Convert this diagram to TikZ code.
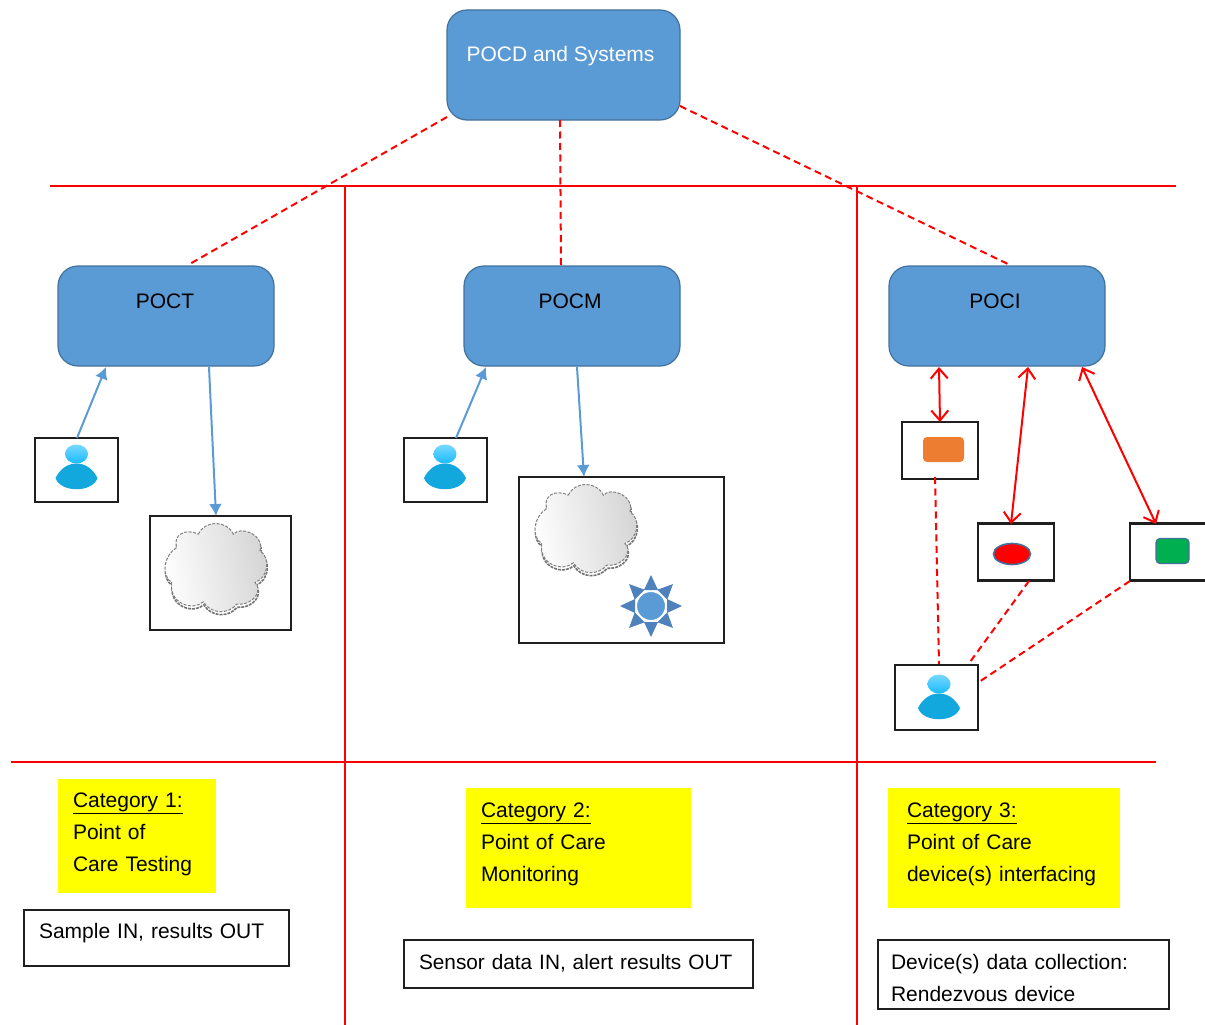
\documentclass[tikz,border=0pt]{standalone}
\usepackage{fontspec}
\setmainfont{Liberation Sans}
\usetikzlibrary{arrows.meta,shapes.geometric}
\definecolor{boxblue}{HTML}{5B9BD5}
\definecolor{boxedge}{HTML}{41719C}
\definecolor{sunblue}{HTML}{4F81BD}
\definecolor{pureyellow}{HTML}{FFFF00}
\definecolor{purered}{HTML}{FF0000}
\newsavebox{\liftbox}
\newcommand{\uptext}[2]{\sbox{\liftbox}{\begin{tabular}{@{}l@{}}#2\end{tabular}}\raisebox{#1}[\ht\liftbox][\dp\liftbox]{\usebox{\liftbox}}}
\newcommand{\cloudpath}{(-18.3,-33.3) .. controls (-12,-47.6) and (10,-47.6) .. (16.7,-33.3)
  .. controls (24,-42) and (48,-33) .. (43.3,-16.7)
  .. controls (54,-10) and (52,10) .. (38.3,15)
  .. controls (46,22) and (38,38) .. (20,36.7)
  .. controls (12,47) and (-6,47) .. (-13.3,34.3)
  .. controls (-24,44) and (-48,36) .. (-45,15)
  .. controls (-56,8) and (-53,-12) .. (-40,-20)
  .. controls (-44,-32) and (-32,-40) .. (-18.3,-33.3) -- cycle}
\tikzset{
  txt/.style={font=\fontsize{21}{32}\selectfont},
  bluebox/.style={draw=boxedge,line width=1.2pt,fill=boxblue,rounded corners=20pt,outer sep=0pt,inner sep=0pt},
  blackbox/.style={draw=black!88,line width=2.2pt,fill=white,outer sep=0pt,inner sep=0pt},
  yellowbox/.style={fill=pureyellow,outer sep=0pt,inner sep=0pt,txt,align=left},
  redline/.style={purered,line width=2pt},
  reddash/.style={purered,line width=2pt,dash pattern=on 7pt off 4.5pt},
  bluearrow/.style={draw=boxblue,line width=2pt,-{Latex[length=12pt,width=13pt]}},
  redarrow/.style={purered,line width=2pt,{Straight Barb[length=10pt,width=17pt]}-{Straight Barb[length=10pt,width=17pt]}},
  pics/person/.style={code={
    \shade[top color=cyan!45!white!85!blue,bottom color=cyan!70!blue!90] (0,-16) ellipse [x radius=11.5pt,y radius=9.5pt];
    \fill[color={rgb,255:red,18;green,168;blue,222}] (-21,8) .. controls (-16,-2) and (-8,-6.5) .. (0,-6.5) .. controls (8,-6.5) and (16,-2) .. (21,8) .. controls (16,23) and (-16,23) .. (-21,8) -- cycle;
  }},
  pics/puffcloud/.style={code={
    \draw[black!55,line width=1.6pt,dash pattern=on 3pt off 1pt,shift={(0.5,3)}] \cloudpath;
    \shade[left color=white,right color=black!17,shading angle=100] \cloudpath;
    \draw[black!50,line width=1pt,dash pattern=on 3pt off 1.5pt] \cloudpath;
  }},
  pics/sunburst/.style={code={
    \foreach \a in {0,45,...,315}{
      \fill[sunblue,rotate=\a] (16,-7) -- (31,0) -- (16,7) -- cycle;
    }
    \draw[white,line width=1pt,fill=boxblue] (0,0) circle [radius=14.5pt];
  }},
}
\begin{document}
\begin{tikzpicture}[x=1pt,y=-1pt]
\useasboundingbox (0,0) rectangle (1205,1025);

% separators
\coordinate (h1a) at (50,186); \coordinate (h1b) at (1176,186);
\coordinate (h2a) at (11,762); \coordinate (h2b) at (1156,762);
\coordinate (v1a) at (345,186); \coordinate (v1b) at (345,1025);
\coordinate (v2a) at (857,186); \coordinate (v2b) at (857,1025);
\draw[redline] (h1a) -- (h1b);
\draw[redline] (h2a) -- (h2b);
\draw[redline] (v1a) -- (v1b);
\draw[redline] (v2a) -- (v2b);

% blue boxes
\node[bluebox,minimum width=233pt,minimum height=110pt] (top) at (563.5,65) {};
\node[txt,white,anchor=base] (toplabel) at (560.5,62) {POCD and Systems};
\node[bluebox,minimum width=216pt,minimum height=100pt] (poct) at (166,316) {};
\node[bluebox,minimum width=216pt,minimum height=100pt] (pocm) at (572,316) {};
\node[bluebox,minimum width=216pt,minimum height=100pt] (poci) at (997,316) {};
\node[txt,anchor=base] (poctlabel) at (165,308) {POCT};
\node[txt,anchor=base] (pocmlabel) at (570,308) {POCM};
\node[txt,anchor=base] (pocilabel) at (995,308) {POCI};

% dashed links from the top box
\coordinate (t1) at (447,117); \coordinate (t2) at (560,120); \coordinate (t3) at (680,106);
\coordinate (c1) at (188,265); \coordinate (c2) at (561,265); \coordinate (c3) at (1010,265);
\draw[reddash] (t1) -- (c1);
\draw[reddash] (t2) -- (c2);
\draw[reddash] (t3) -- (c3);

% POCT column
\node[blackbox,minimum width=83pt,minimum height=64pt] (user1) at (76.5,470) {};
\pic at (76.5,470) {person};
\node[blackbox,minimum width=141pt,minimum height=114pt] (cloudbox1) at (220.5,573) {};
\pic at (216.7,567.5) {puffcloud};
\coordinate (a1) at (77,438); \coordinate (a2) at (106,367);
\coordinate (a3) at (209,367); \coordinate (a4) at (216,516);
\draw[bluearrow] (a1) -- (a2);
\draw[bluearrow] (a3) -- (a4);

% POCM column
\node[blackbox,minimum width=83pt,minimum height=64pt] (user2) at (445.5,470) {};
\pic at (445,470) {person};
\node[blackbox,minimum width=205pt,minimum height=166pt] (cloudbox2) at (621.5,560) {};
\pic at (586.7,528.5) {puffcloud};
\pic at (651,606) {sunburst};
\coordinate (b1) at (456,438); \coordinate (b2) at (486,367);
\coordinate (b3) at (577,367); \coordinate (b4) at (584,477);
\draw[bluearrow] (b1) -- (b2);
\draw[bluearrow] (b3) -- (b4);

% POCI column
\node[blackbox,minimum width=76pt,minimum height=57pt] (dev1) at (940,450.5) {};
\node[fill={rgb,255:red,237;green,125;blue,49},rounded corners=4pt,minimum width=41pt,minimum height=25pt,inner sep=0pt] (dev1in) at (943.5,449.5) {};
\node[blackbox,minimum width=76pt,minimum height=57pt] (dev2) at (1016,552) {};
\node[ellipse,draw=boxedge,line width=1.6pt,fill=purered,minimum width=37pt,minimum height=21pt,inner sep=0pt] (dev2in) at (1012,554) {};
\node[blackbox,minimum width=76pt,minimum height=57pt] (dev3) at (1168,552) {};
\node[draw=boxedge,line width=1.2pt,fill={rgb,255:red,0;green,176;blue,80},rounded corners=4pt,minimum width=33pt,minimum height=25pt,inner sep=0pt] (dev3in) at (1172.5,551) {};
\node[blackbox,minimum width=83pt,minimum height=65pt] (user3) at (936.5,697.5) {};
\pic at (939,700) {person};
\coordinate (d1a) at (939,367); \coordinate (d1b) at (940,422);
\coordinate (d2a) at (1028,367); \coordinate (d2b) at (1011,524);
\coordinate (d3a) at (1082,367); \coordinate (d3b) at (1156,524);
\draw[redarrow] (d1a) -- (d1b);
\draw[redarrow] (d2a) -- (d2b);
\draw[redarrow] (d3a) -- (d3b);
\coordinate (e1a) at (935,477); \coordinate (e1b) at (939,664);
\coordinate (e2a) at (1029,581); \coordinate (e2b) at (970,662);
\coordinate (e3a) at (1130,581); \coordinate (e3b) at (979,682);
\draw[reddash] (e1a) -- (e1b);
\draw[reddash] (e2a) -- (e2b);
\draw[reddash] (e3a) -- (e3b);

% categories
\node[yellowbox,minimum width=158pt,minimum height=114pt,text width=128pt] (cat1) at (137,836) {\uptext{3pt}{\underline{Category 1:}\\Point of\\Care Testing}};
\node[yellowbox,minimum width=225pt,minimum height=120pt,text width=195pt] (cat2) at (578.5,848) {\uptext{5pt}{\underline{Category 2:}\\Point of Care\\Monitoring}};
\node[yellowbox,minimum width=232pt,minimum height=120pt,text width=194pt] (cat3) at (1004,848) {\uptext{5pt}{\underline{Category 3:}\\Point of Care\\device(s) interfacing}};

% descriptions
\node[blackbox,txt,minimum width=265pt,minimum height=56pt,text width=235pt,align=left] (desc1) at (156.5,938) {\uptext{6pt}{Sample IN, results OUT}};
\node[blackbox,font=\fontsize{20.8}{32}\selectfont,minimum width=349pt,minimum height=48pt,text width=319pt,align=left] (desc2) at (578.5,964) {\uptext{1pt}{Sensor data IN, alert results OUT}};
\node[blackbox,txt,minimum width=291pt,minimum height=69pt,text width=265pt,align=left] (desc3) at (1023.5,974.5) {\uptext{-5pt}{Device(s) data collection:\\Rendezvous device}};
\end{tikzpicture}
\end{document}
